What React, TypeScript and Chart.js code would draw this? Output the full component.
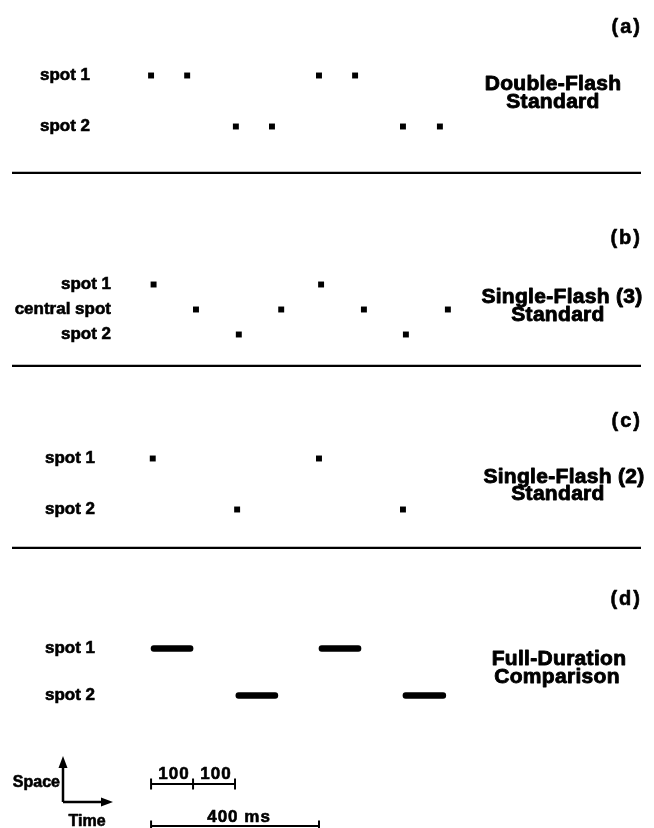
import React, { useEffect, useRef } from 'react';
import { Chart, registerables } from 'chart.js';

Chart.register(...registerables);

const FONT = '"Liberation Sans", Arial, Helvetica, sans-serif';

// ---------------- data (time in ms) ----------------
const ROWS_TWO = ['spot 1', 'spot 2'];
const ROWS_THREE = ['spot 1', 'central spot', 'spot 2'];

const A_SPOT1 = [0, 86, 400, 486];
const A_SPOT2 = [202, 288, 600, 688];

const B_SPOT1 = [6, 405];
const B_CENTRAL = [107, 310, 507, 707];
const B_SPOT2 = [209, 607];

const C_SPOT1 = [4, 400];
const C_SPOT2 = [205, 600];

const D_SPOT1 = [[0, 100], [400, 500]];
const D_SPOT2 = [[202, 302], [600, 702]];

const SCALE_ROWS = ['100 + 100 ms', '400 ms'];
const SCALE_SHORT_TICKS = [0, 100, 200];
const SCALE_SHORT_LABELS = ['100', '100'];
const SCALE_LONG_TICKS = [0, 400];
const SCALE_LONG_LABEL = '400 ms';

const PANEL_LETTERS = ['(a)', '(b)', '(c)', '(d)'];
const TITLE_A = ['Double-Flash', 'Standard'];
const TITLE_B = ['Single-Flash (3)', 'Standard'];
const TITLE_C = ['Single-Flash (2)', 'Standard'];
const TITLE_D = ['Full-Duration', 'Comparison'];
const AXIS_WORDS = ['Space', 'Time'];

// ---------------- layout ----------------
const W = 654;
const AXIS_RIGHT = 120; // x pixel where the time axis area starts
const X_MIN = -74;
const X_MAX = 1198;

type Line = { text: string; cx: number; y: number };

function heavyText(ctx: CanvasRenderingContext2D, text: string, x: number, y: number, sw: number) {
  ctx.fillText(text, x, y);
  if (sw > 0) {
    ctx.lineWidth = sw;
    ctx.lineJoin = 'round';
    ctx.strokeText(text, x, y);
  }
}

function decor(letter: string, letterY: number, lines: Line[], separator: boolean) {
  return {
    id: 'decor',
    afterDraw(chart: any) {
      const ctx = chart.ctx as CanvasRenderingContext2D;
      const h = chart.height;
      ctx.save();
      ctx.fillStyle = '#000';
      ctx.strokeStyle = '#000';
      ctx.textBaseline = 'middle';
      ctx.font = `bold 20px ${FONT}`;
      (ctx as any).letterSpacing = '2px';
      ctx.textAlign = 'right';
      heavyText(ctx, letter, 642, letterY, 0.6);
      ctx.font = `bold 21px ${FONT}`;
      (ctx as any).letterSpacing = '0.3px';
      ctx.textAlign = 'center';
      lines.forEach((l) => heavyText(ctx, l.text, l.cx, l.y, 0.9));
      (ctx as any).letterSpacing = '0px';
      if (separator) {
        ctx.lineWidth = 2.2;
        ctx.beginPath();
        ctx.moveTo(12, h - 1.1);
        ctx.lineTo(641, h - 1.1);
        ctx.stroke();
      }
      ctx.restore();
    },
  };
}

function baseOptions(
  padTop: number,
  padBottom: number,
  rows: string[],
  labelEdge: number,
  align: 'near' | 'far',
  offset = true,
  showTicks = true,
) {
  // 'far': labels left-aligned at labelEdge; 'near': right-aligned at labelEdge
  const padLeft = align === 'far' ? labelEdge : 0;
  const tickPadding = align === 'near' ? AXIS_RIGHT - labelEdge : 0;
  return {
    responsive: false,
    animation: false,
    events: [],
    layout: { autoPadding: false, padding: { left: padLeft, right: 0, top: padTop, bottom: padBottom } },
    plugins: { legend: { display: false }, tooltip: { enabled: false }, title: { display: false } },
    elements: {
      point: { pointStyle: 'rect', radius: 4.2, backgroundColor: '#000', borderWidth: 0, hoverRadius: 4.2 },
    },
    scales: {
      x: { type: 'linear', min: X_MIN, max: X_MAX, display: false },
      y: {
        type: 'category',
        labels: rows,
        offset,
        grid: { display: false, drawTicks: false },
        border: { display: false },
        ticks: {
          display: showTicks,
          color: '#000',
          padding: tickPadding,
          crossAlign: align,
          textStrokeColor: '#000',
          textStrokeWidth: 0.6,
          font: { family: FONT, size: 17, weight: 'bold' },
        },
        afterFit: (s: any) => {
          s.width = AXIS_RIGHT - padLeft;
        },
      },
    },
  } as any;
}

function dots(times: number[], row: string) {
  return {
    label: row,
    data: times.map((t) => ({ x: t, y: row })),
    pointBackgroundColor: '#000',
    pointBorderWidth: 0,
    clip: false,
  };
}

const configA = () => ({
  type: 'scatter',
  data: { datasets: [dots(A_SPOT1, ROWS_TWO[0]), dots(A_SPOT2, ROWS_TWO[1])] },
  options: baseOptions(50, 22, ROWS_TWO, 40, 'far'),
  plugins: [
    decor(PANEL_LETTERS[0], 27, [
      { text: TITLE_A[0], cx: 553, y: 84 },
      { text: TITLE_A[1], cx: 553, y: 102 },
    ], true),
  ],
});

const configB = () => ({
  type: 'scatter',
  data: {
    datasets: [dots(B_SPOT1, ROWS_THREE[0]), dots(B_CENTRAL, ROWS_THREE[1]), dots(B_SPOT2, ROWS_THREE[2])],
  },
  options: baseOptions(98, 20, ROWS_THREE, 111, 'near'),
  plugins: [
    decor(PANEL_LETTERS[1], 64, [
      { text: TITLE_B[0], cx: 562, y: 123 },
      { text: TITLE_B[1], cx: 558, y: 141 },
    ], true),
  ],
});

const configC = () => ({
  type: 'scatter',
  data: { datasets: [dots(C_SPOT1, ROWS_TWO[0]), dots(C_SPOT2, ROWS_TWO[1])] },
  options: baseOptions(66, 14, ROWS_TWO, 45, 'far'),
  plugins: [
    decor(PANEL_LETTERS[2], 54, [
      { text: TITLE_C[0], cx: 564, y: 110 },
      { text: TITLE_C[1], cx: 558, y: 127 },
    ], true),
  ],
});

const configD = () => {
  const o = baseOptions(76, 23, ROWS_TWO, 45, 'far');
  o.indexAxis = 'y';
  return {
    type: 'bar',
    data: {
      labels: ROWS_TWO,
      datasets: [
        { label: 'first', data: [D_SPOT1[0], D_SPOT2[0]] },
        { label: 'second', data: [D_SPOT1[1], D_SPOT2[1]] },
      ].map((d) => ({
        ...d,
        backgroundColor: '#000',
        barThickness: 6,
        borderRadius: 3,
        borderSkipped: false,
        grouped: false,
      })),
    },
    options: o,
    plugins: [
      decor(PANEL_LETTERS[3], 50, [
        { text: TITLE_D[0], cx: 559, y: 110 },
        { text: TITLE_D[1], cx: 557, y: 128 },
      ], false),
    ],
  };
};

const legendDecor = {
  id: 'legendDecor',
  afterDraw(chart: any) {
    const ctx = chart.ctx as CanvasRenderingContext2D;
    const xs = chart.scales.x;
    const ys = chart.scales.y;
    ctx.save();
    ctx.fillStyle = '#000';
    ctx.strokeStyle = '#000';
    // scale bar labels
    ctx.font = `bold 17px ${FONT}`;
    (ctx as any).letterSpacing = '1px';
    ctx.textAlign = 'center';
    ctx.textBaseline = 'alphabetic';
    const yShort = ys.getPixelForValue(0);
    SCALE_SHORT_LABELS.forEach((lab, i) => {
      const mid = (SCALE_SHORT_TICKS[i] + SCALE_SHORT_TICKS[i + 1]) / 2;
      heavyText(ctx, lab, xs.getPixelForValue(mid) + 2, yShort - 5, 0.6);
    });
    const yLong = ys.getPixelForValue(1);
    const midL = (SCALE_LONG_TICKS[0] + SCALE_LONG_TICKS[1]) / 2;
    heavyText(ctx, SCALE_LONG_LABEL, xs.getPixelForValue(midL) + 4, yLong - 4, 0.6);
    (ctx as any).letterSpacing = '0px';

    // space / time axes
    const cx = 63;
    const cy = 60;
    ctx.lineWidth = 2.5;
    ctx.beginPath();
    ctx.moveTo(cx, cy);
    ctx.lineTo(cx, 24);
    ctx.moveTo(cx, cy);
    ctx.lineTo(103, cy);
    ctx.stroke();
    ctx.beginPath();
    ctx.moveTo(cx, 14);
    ctx.lineTo(cx - 4.5, 26);
    ctx.lineTo(cx + 4.5, 26);
    ctx.closePath();
    ctx.fill();
    ctx.beginPath();
    ctx.moveTo(113, cy);
    ctx.lineTo(101, cy - 4.5);
    ctx.lineTo(101, cy + 4.5);
    ctx.closePath();
    ctx.fill();
    ctx.font = `bold 16px ${FONT}`;
    ctx.textBaseline = 'middle';
    ctx.textAlign = 'right';
    heavyText(ctx, AXIS_WORDS[0], 60, 41, 0.6);
    ctx.textAlign = 'center';
    heavyText(ctx, AXIS_WORDS[1], 87, 80, 0.6);
    ctx.restore();
  },
};

const configLegend = () => ({
  type: 'line',
  data: {
    datasets: [
      { label: SCALE_ROWS[0], data: SCALE_SHORT_TICKS.map((t) => ({ x: t, y: SCALE_ROWS[0] })) },
      { label: SCALE_ROWS[1], data: SCALE_LONG_TICKS.map((t) => ({ x: t, y: SCALE_ROWS[1] })) },
    ].map((d) => ({
      ...d,
      borderColor: '#000',
      borderWidth: 2,
      pointStyle: 'line',
      pointRotation: 90,
      pointRadius: 5.5,
      pointHoverRadius: 5.5,
      pointBorderWidth: 2,
      pointBorderColor: '#000',
      clip: false,
    })),
  },
  options: baseOptions(42, 2, SCALE_ROWS, 0, 'far', false, false),
  plugins: [legendDecor],
});

function ChartCanvas({ height, make }: { height: number; make: () => any }) {
  const ref = useRef<HTMLCanvasElement>(null);
  useEffect(() => {
    const chart = new Chart(ref.current as HTMLCanvasElement, make());
    return () => chart.destroy();
  }, []);
  return <canvas ref={ref} width={W} height={height} style={{ display: 'block', width: W, height }} />;
}

export default function App() {
  return (
    <div style={{ position: 'absolute', left: 0, top: 0, width: W, height: 828, background: '#fff', overflow: 'hidden' }}>
      <ChartCanvas height={174} make={configA} />
      <ChartCanvas height={193} make={configB} />
      <ChartCanvas height={182} make={configC} />
      <ChartCanvas height={193} make={configD} />
      <ChartCanvas height={86} make={configLegend} />
    </div>
  );
}
